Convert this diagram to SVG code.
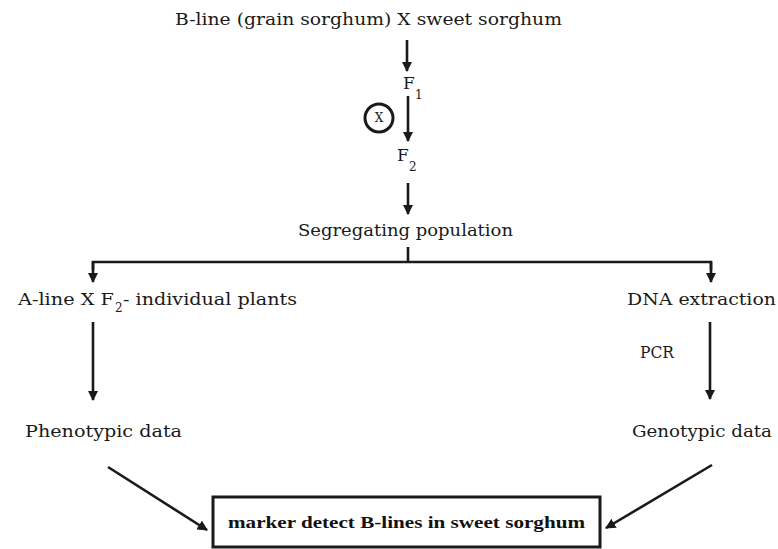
<svg xmlns="http://www.w3.org/2000/svg" width="778" height="549" viewBox="0 0 778 549">
  <style>
    .t { font-family: "DejaVu Serif", "Liberation Serif", serif; font-size: 17px; fill: #1a1a1a; }
    .sub { font-family: "DejaVu Serif", "Liberation Serif", serif; font-size: 12px; fill: #1a1a1a; }
    .bold { font-family: "Liberation Serif", "DejaVu Serif", serif; font-weight: bold; font-size: 17px; fill: #111; }
    .ln { stroke: #1a1a1a; stroke-width: 2.6; fill: none; }
  </style>
  <defs>
    <marker id="ah" viewBox="0 0 10 10" refX="9" refY="5" markerWidth="4" markerHeight="4" orient="auto" markerUnits="strokeWidth">
      <path d="M0,0 L10,5 L0,10 Z" fill="#1a1a1a"/>
    </marker>
  </defs>
  <rect width="778" height="549" fill="#fff"/>

  <g id="cross">
    <text class="t" x="175" y="25" textLength="387" lengthAdjust="spacingAndGlyphs">B-line  (grain sorghum) X sweet sorghum</text>
  </g>
  <g id="f1">
    <text class="t" x="403" y="89">F</text>
    <text class="sub" x="415" y="99">1</text>
  </g>
  <g id="selfing">
    <circle cx="379" cy="118" r="14" fill="#fff" stroke="#1a1a1a" stroke-width="3"/>
    <text class="sub" x="379" y="122" font-size="11" text-anchor="middle">X</text>
  </g>
  <g id="f2">
    <text class="t" x="397" y="161">F</text>
    <text class="sub" x="409" y="171">2</text>
  </g>
  <g id="segregating">
    <text class="t" x="298" y="236" textLength="215" lengthAdjust="spacingAndGlyphs">Segregating population</text>
  </g>
  <g id="testcross">
    <text class="t" x="18" y="305" textLength="96" lengthAdjust="spacingAndGlyphs">A-line X  F</text>
    <text class="sub" x="115" y="312">2</text>
    <text class="t" x="123" y="305" textLength="174" lengthAdjust="spacingAndGlyphs">- individual plants</text>
  </g>
  <g id="dna">
    <text class="t" x="627" y="305" textLength="149" lengthAdjust="spacingAndGlyphs">DNA extraction</text>
  </g>
  <g id="pcr">
    <text class="t" x="640" y="358" textLength="34" lengthAdjust="spacingAndGlyphs">PCR</text>
  </g>
  <g id="phenotypic">
    <text class="t" x="25" y="437" textLength="157" lengthAdjust="spacingAndGlyphs">Phenotypic  data</text>
  </g>
  <g id="genotypic">
    <text class="t" x="632" y="437" textLength="140" lengthAdjust="spacingAndGlyphs">Genotypic data</text>
  </g>
  <g id="result">
    <rect x="213" y="497" width="387" height="50" fill="#fff" stroke="#1a1a1a" stroke-width="3"/>
    <text class="bold" x="228" y="528" textLength="357" lengthAdjust="spacingAndGlyphs">marker detect B-lines in sweet sorghum</text>
  </g>

  <g id="connectors">
    <line class="ln" x1="407" y1="40" x2="407" y2="71" marker-end="url(#ah)"/>
    <line class="ln" x1="408" y1="96" x2="408" y2="141" marker-end="url(#ah)"/>
    <line class="ln" x1="408" y1="183" x2="408" y2="214" marker-end="url(#ah)"/>
    <line class="ln" x1="408" y1="247" x2="408" y2="262"/>
    <polyline class="ln" points="93,270 93,262 711,262 711,270"/>
    <line class="ln" x1="93" y1="262" x2="93" y2="282" marker-end="url(#ah)"/>
    <line class="ln" x1="711" y1="262" x2="711" y2="282" marker-end="url(#ah)"/>
    <line class="ln" x1="93" y1="322" x2="93" y2="400" marker-end="url(#ah)"/>
    <line class="ln" x1="710" y1="322" x2="710" y2="399" marker-end="url(#ah)"/>
    <line class="ln" x1="108" y1="467" x2="207" y2="530" marker-end="url(#ah)"/>
    <line class="ln" x1="712" y1="465" x2="606" y2="528" marker-end="url(#ah)"/>
  </g>
</svg>
